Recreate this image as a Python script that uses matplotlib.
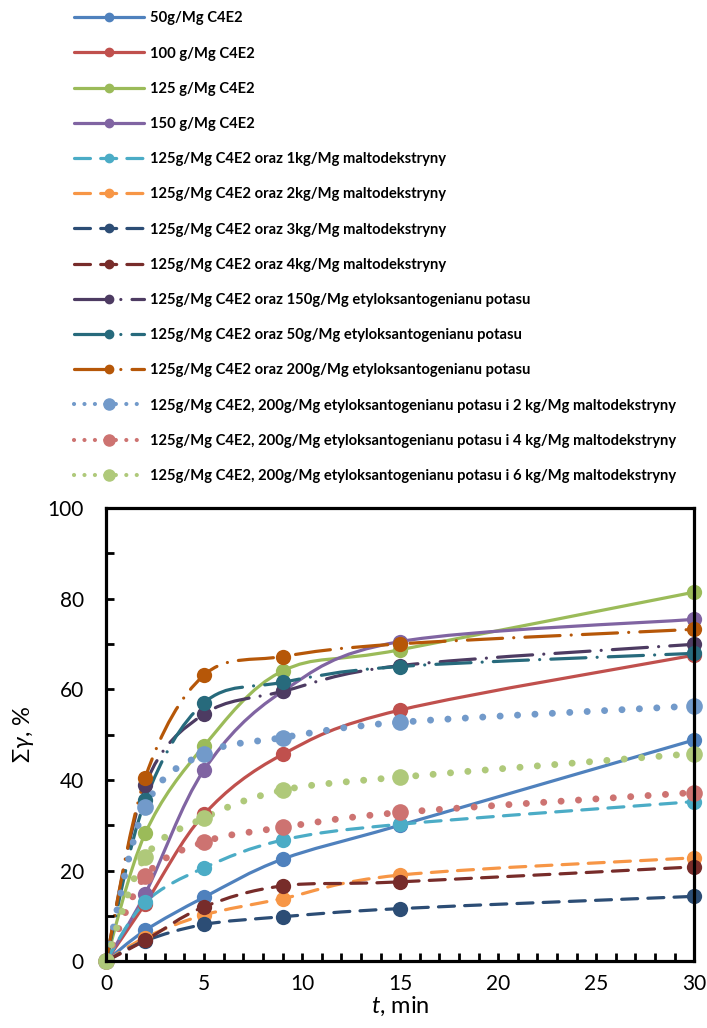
"""
Krzywe flotacji - sumaryczny uzysk w czasie dla roznych dawek odczynnikow.
"""

import numpy as np
import matplotlib
matplotlib.use("Agg")
import matplotlib.pyplot as plt
from matplotlib.path import Path
from matplotlib.patches import PathPatch
from matplotlib.lines import Line2D

plt.rcParams["font.family"] = ["Lato", "DejaVu Sans"]
plt.rcParams["mathtext.fontset"] = "custom"
plt.rcParams["mathtext.rm"] = "Lato"
plt.rcParams["mathtext.it"] = "Lato:italic"

# czas flotacji, min
t = [0, 2, 5, 9, 15, 30]

# serie
labels = [
    "50g/Mg C4E2",
    "100 g/Mg C4E2",
    "125 g/Mg C4E2",
    "150 g/Mg C4E2",
    "125g/Mg C4E2 oraz 1kg/Mg maltodekstryny",
    "125g/Mg C4E2 oraz 2kg/Mg maltodekstryny",
    "125g/Mg C4E2 oraz 3kg/Mg maltodekstryny",
    "125g/Mg C4E2 oraz 4kg/Mg maltodekstryny",
    "125g/Mg C4E2 oraz 150g/Mg etyloksantogenianu potasu",
    "125g/Mg C4E2 oraz 50g/Mg etyloksantogenianu potasu",
    "125g/Mg C4E2 oraz 200g/Mg etyloksantogenianu potasu",
    "125g/Mg C4E2, 200g/Mg etyloksantogenianu potasu i 2 kg/Mg maltodekstryny",
    "125g/Mg C4E2, 200g/Mg etyloksantogenianu potasu i 4 kg/Mg maltodekstryny",
    "125g/Mg C4E2, 200g/Mg etyloksantogenianu potasu i 6 kg/Mg maltodekstryny",
]

c4e2_50 = [0, 6.8, 14.1, 22.5, 30.0, 48.8]
c4e2_100 = [0, 12.7, 32.4, 45.6, 55.4, 67.5]
c4e2_125 = [0, 28.2, 47.5, 64.0, 68.7, 81.4]
c4e2_150 = [0, 14.9, 42.2, 59.5, 70.5, 75.4]
malto_1 = [0, 13.0, 20.6, 26.7, 30.2, 35.2]
malto_2 = [0, 5.2, 10.2, 13.8, 19.0, 22.8]
malto_3 = [0, 4.5, 8.1, 9.8, 11.6, 14.3]
malto_4 = [0, 4.6, 12.0, 16.6, 17.5, 20.8]
ksant_150 = [0, 38.9, 54.5, 59.5, 65.2, 69.9]
ksant_50 = [0, 35.5, 57.0, 61.5, 65.0, 67.9]
ksant_200 = [0, 40.5, 63.1, 67.2, 70.0, 73.2]
mix_2 = [0, 34.1, 45.8, 49.3, 52.7, 56.3]
mix_4 = [0, 18.8, 26.3, 29.5, 32.8, 37.2]
mix_6 = [0, 23.0, 31.6, 37.7, 40.6, 45.8]

series = [c4e2_50, c4e2_100, c4e2_125, c4e2_150, malto_1, malto_2, malto_3,
          malto_4, ksant_150, ksant_50, ksant_200, mix_2, mix_4, mix_6]

colors = ["#4F81BD", "#C0504D", "#9BBB59", "#8064A2", "#4BACC6", "#F79646",
          "#2C4D75", "#772C2A", "#4D3B62", "#276A7C", "#B65708",
          "#729ACA", "#CD7371", "#AFC97A"]

SOLID = "solid"
DASH = (0, (5, 3.2))
LDASHDOT = (0, (11, 3.5, 0.01, 3.5))
DOT = (0, (0.01, 2.5))
styles = [SOLID] * 4 + [DASH] * 4 + [LDASHDOT] * 3 + [DOT] * 3


def smooth_path(x, y):
    """Krzywa Beziera jak 'wygladzona linia' w Excelu."""
    x = np.asarray(x, float)
    y = np.asarray(y, float)
    pts = np.column_stack([x, y])
    n = len(pts)
    verts = [pts[0]]
    codes = [Path.MOVETO]
    for i in range(n - 1):
        p0 = pts[i - 1] if i > 0 else pts[i]
        p1 = pts[i]
        p2 = pts[i + 1]
        p3 = pts[i + 2] if i + 2 < n else pts[i + 1]
        c1 = p1 + (p2 - p0) / 6.0
        c2 = p2 - (p3 - p1) / 6.0
        verts += [c1, c2, p2]
        codes += [Path.CURVE4] * 3
    return Path(verts, codes)


fig = plt.figure(figsize=(7.07, 10.28), dpi=100)
ax = fig.add_axes([0.150, 0.065, 0.832, 0.441])

for vals, color, ls in zip(series, colors, styles):
    dotted = ls == DOT
    lw = 5.0 if dotted else 2.3
    patch = PathPatch(smooth_path(t, vals), facecolor="none", edgecolor=color,
                      lw=lw, linestyle=ls, capstyle="round", joinstyle="round")
    ax.add_patch(patch)
    ax.plot(t, vals, linestyle="none", marker="o",
            markersize=12 if dotted else 11, color=color,
            markeredgewidth=0, clip_on=False)

ax.set_xlim(0, 30)
ax.set_ylim(0, 100)
ax.set_xticks(np.arange(0, 31, 5))
ax.set_xticks(np.arange(0, 31, 1), minor=True)
ax.set_yticks(np.arange(0, 101, 20))
ax.set_yticks(np.arange(0, 101, 10), minor=True)
ax.tick_params(which="both", direction="in", width=2, length=6,
               labelsize=15, color="black")
ax.tick_params(axis="x", which="both", pad=9)
ax.tick_params(axis="y", which="both", pad=16)
for sp in ax.spines.values():
    sp.set_linewidth(2.3)
    sp.set_color("black")

ax.set_xlabel(r"$\mathit{t}$, min", fontsize=17, labelpad=1)
ax.set_ylabel(r"$\Sigma\mathit{\gamma}$, %", fontsize=17, labelpad=8)

# Legenda nad wykresem
handles = []
for lab, color, ls in zip(labels, colors, styles):
    dotted = ls == DOT
    handles.append(Line2D([], [], color=color, lw=3.0 if dotted else 2.3,
                          linestyle=ls, marker="o",
                          markersize=8 if dotted else 6,
                          dash_capstyle="round", solid_capstyle="round",
                          label=lab))

fig.legend(handles=handles, loc="upper left", bbox_to_anchor=(0.09, 0.999),
           frameon=False, prop={"weight": "bold", "size": 10.6},
           handlelength=4.75, handletextpad=0.4, labelspacing=1.44,
           numpoints=1, borderaxespad=0.3)

plt.savefig("out.png", dpi=100)
